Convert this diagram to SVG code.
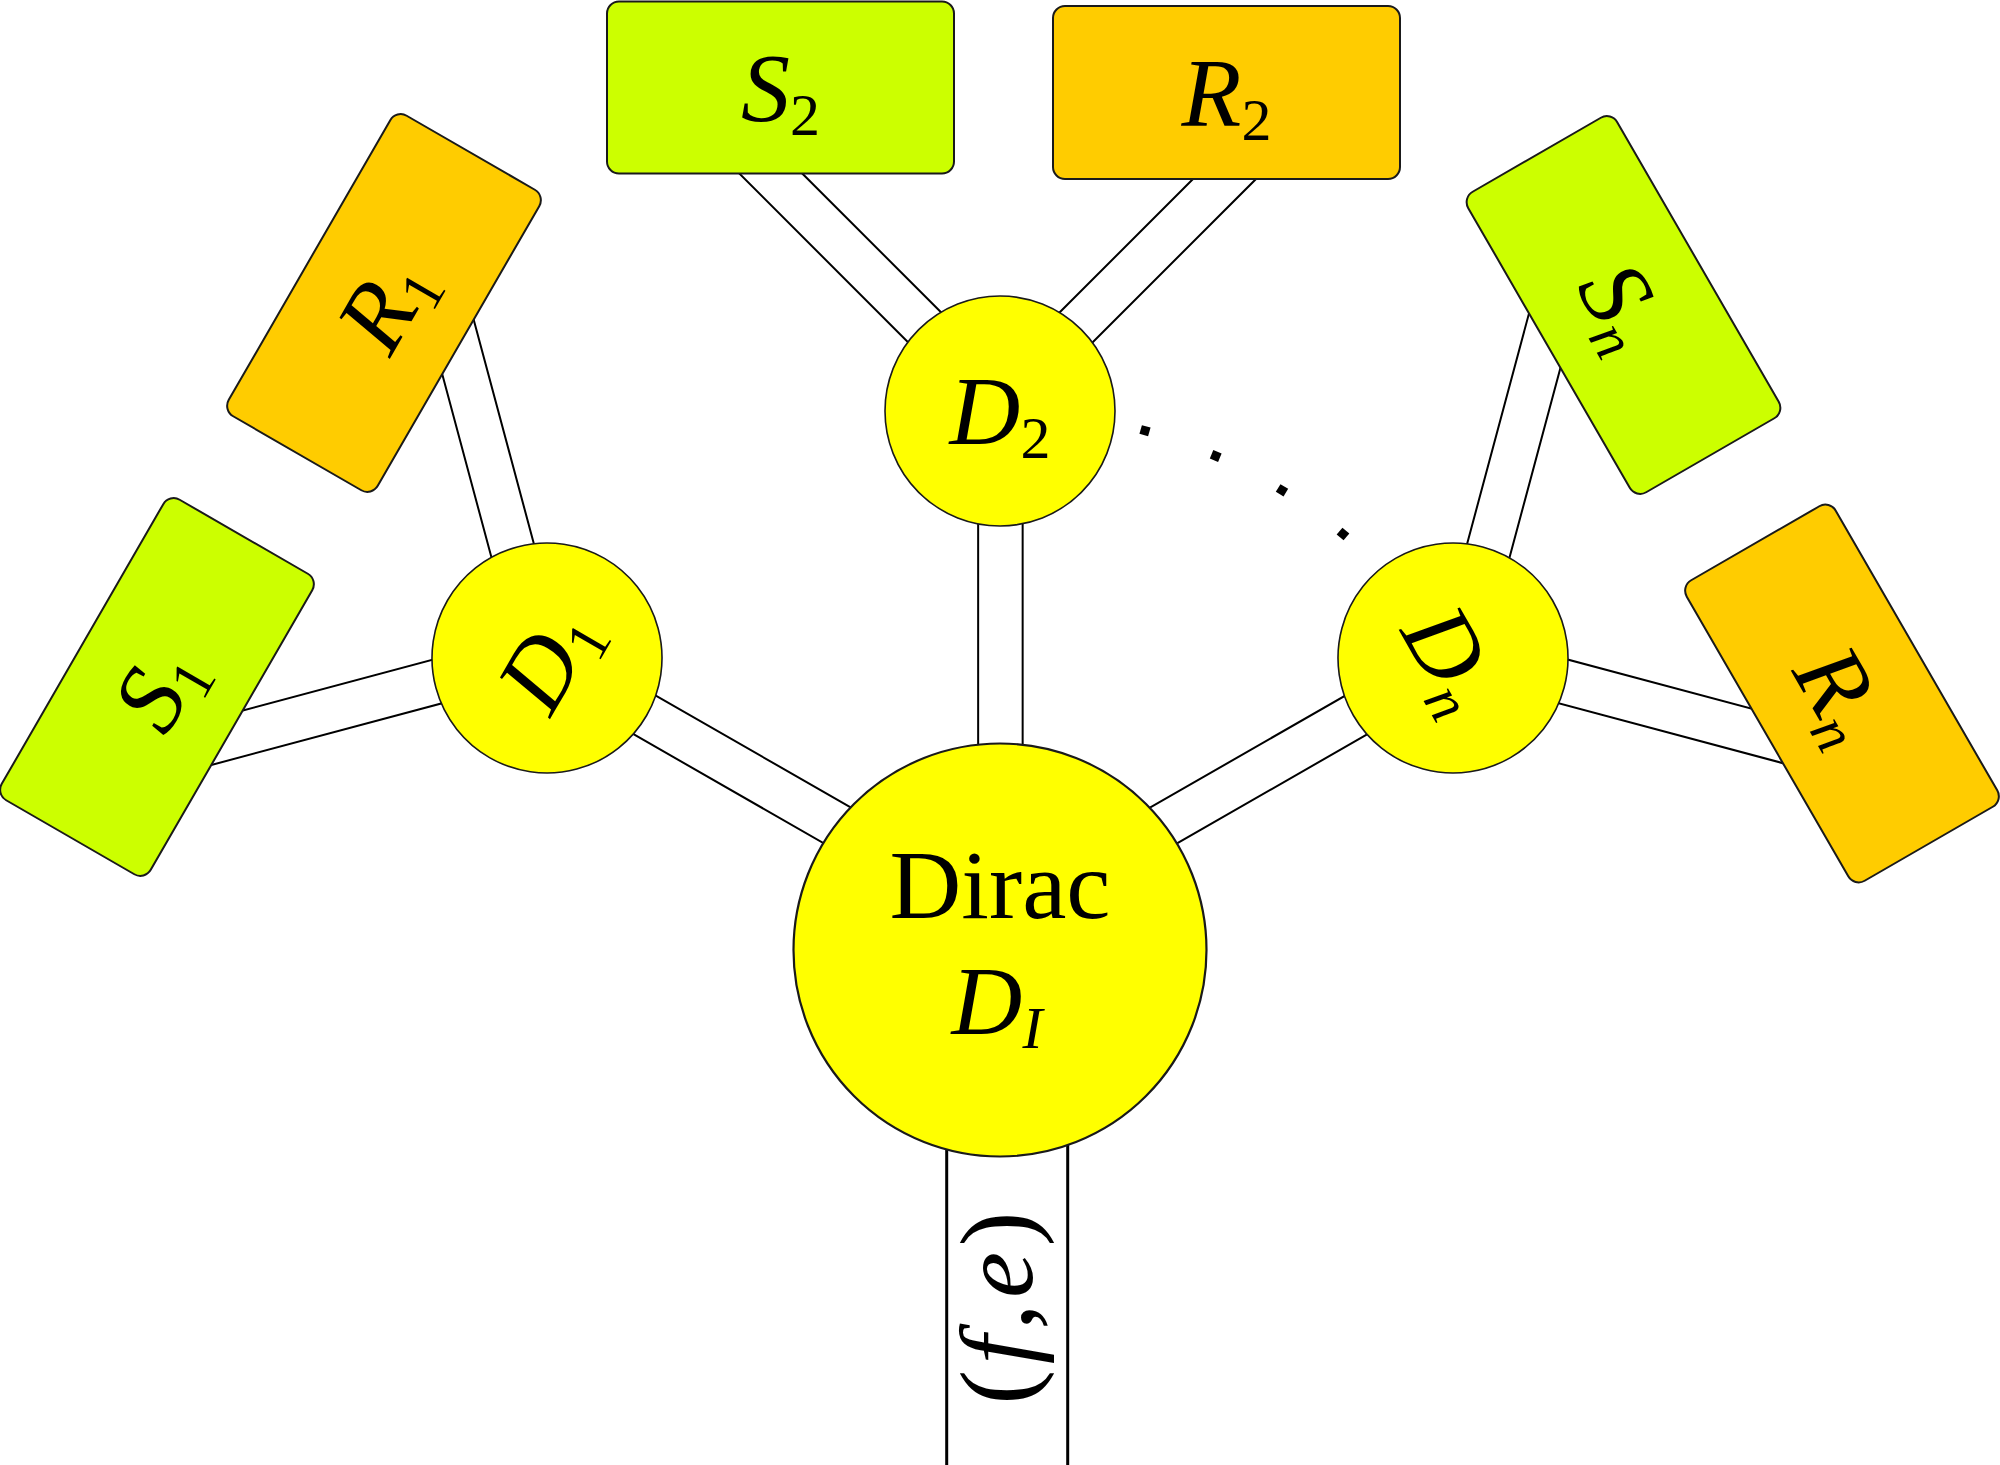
<svg xmlns="http://www.w3.org/2000/svg" width="2000" height="1465" viewBox="0 0 2000 1465">
<style>
.outer{fill:none;stroke:#000;stroke-width:46.5}
.inner{fill:none;stroke:#fff;stroke-width:42.5}
.outerB{fill:none;stroke:#000;stroke-width:124}
.innerB{fill:none;stroke:#fff;stroke-width:118}
.green{fill:#ccff00;stroke:#1a1a1a;stroke-width:2}
.orange{fill:#ffcc00;stroke:#1a1a1a;stroke-width:2}
.node{fill:#ffff00;stroke:#1a1a1a;stroke-width:1.6}
.big{fill:#ffff00;stroke:#1a1a1a;stroke-width:2.2}
.lbl{font-family:"Liberation Serif","DejaVu Serif",serif;font-size:98px;font-style:italic;fill:#000;text-anchor:middle}
.sub{font-size:60px;font-style:normal}
.subi{font-size:60px;font-style:italic}
.rm{font-style:normal}
</style>
<rect x="0" y="0" width="2000" height="1465" fill="#fff"/>
<g id="connectors">
  <path class="outer" d="M1000.4 411 L1000.4 950 M547 658.9 L1000 918.7 M1454 658.9 L1001 918.7 M547 652.2 L170 753 M541.5 658 L440 280 M1459.5 658 L1561 280 M1454 652.2 L1831 753 M1005 407.7 L700 102.7 M1000 403.5 L1300 103.5"/>
  <path class="inner" d="M1000.4 411 L1000.4 950 M547 658.9 L1000 918.7 M1454 658.9 L1001 918.7 M547 652.2 L170 753 M541.5 658 L440 280 M1459.5 658 L1561 280 M1454 652.2 L1831 753 M1005 407.7 L700 102.7 M1000 403.5 L1300 103.5"/>
  <path class="outerB" d="M1007.2 950 L1007.2 1470"/>
  <path class="innerB" d="M1007.2 950 L1007.2 1470"/>
  <text class="lbl" style="font-size:104px" transform="translate(1032,1308) rotate(-90)" textLength="193" lengthAdjust="spacing"><tspan class="rm">(</tspan>f<tspan class="rm">,</tspan>e<tspan class="rm">)</tspan></text>
  <g id="dots" fill="#000">
    <rect x="-4.5" y="-4.5" width="9" height="9" transform="translate(1145,430.7) rotate(16)"/>
    <rect x="-4.5" y="-4.5" width="9" height="9" transform="translate(1215.7,456) rotate(23)"/>
    <rect x="-4.5" y="-4.5" width="9" height="9" transform="translate(1282,490.3) rotate(31)"/>
    <rect x="-4.5" y="-4.5" width="9" height="9" transform="translate(1343,534) rotate(40)"/>
  </g>
</g>
<g id="S2">
  <rect class="green" x="607" y="1.5" width="347" height="172" rx="12"/>
  <text class="lbl" x="780.5" y="121">S<tspan class="sub" dy="14">2</tspan></text>
</g>
<g id="R2">
  <rect class="orange" x="1053" y="6" width="347" height="173" rx="12"/>
  <text class="lbl" x="1226.5" y="126">R<tspan class="sub" dy="14">2</tspan></text>
</g>
<g id="R1" transform="translate(384,303) rotate(-60)">
  <rect class="orange" x="-173.5" y="-86" width="347" height="172" rx="12"/>
  <text class="lbl" x="0" y="33">R<tspan class="sub" dy="14">1</tspan></text>
</g>
<g id="S1" transform="translate(157,687) rotate(-60)">
  <rect class="green" x="-173.5" y="-86" width="347" height="172" rx="12"/>
  <text class="lbl" x="0" y="33">S<tspan class="sub" dy="14">1</tspan></text>
</g>
<g id="Sn" transform="translate(1623.5,305) rotate(60)">
  <rect class="green" x="-173.5" y="-86" width="347" height="172" rx="12"/>
  <text class="lbl" x="0" y="33">S<tspan class="subi" dy="14">n</tspan></text>
</g>
<g id="Rn" transform="translate(1842,693.5) rotate(60)">
  <rect class="orange" x="-173.5" y="-86" width="347" height="172" rx="12"/>
  <text class="lbl" x="0" y="33">R<tspan class="subi" dy="14">n</tspan></text>
</g>
<g id="D2">
  <circle class="node" cx="1000" cy="411" r="115"/>
  <text class="lbl" x="1000" y="444">D<tspan class="sub" dy="14">2</tspan></text>
</g>
<g id="D1" transform="translate(547,658) rotate(-60)">
  <circle class="node" cx="0" cy="0" r="115"/>
  <text class="lbl" x="0" y="33">D<tspan class="sub" dy="14">1</tspan></text>
</g>
<g id="Dn" transform="translate(1453,658) rotate(60)">
  <circle class="node" cx="0" cy="0" r="115"/>
  <text class="lbl" x="0" y="33">D<tspan class="subi" dy="14">n</tspan></text>
</g>
<g id="Dirac">
  <circle class="big" cx="1000" cy="950" r="206.5"/>
  <text class="lbl" x="1000" y="918" style="font-style:normal" textLength="221" lengthAdjust="spacingAndGlyphs">Dirac</text>
  <text class="lbl" x="997" y="1034">D<tspan class="subi" dy="14">I</tspan></text>
</g>
</svg>
